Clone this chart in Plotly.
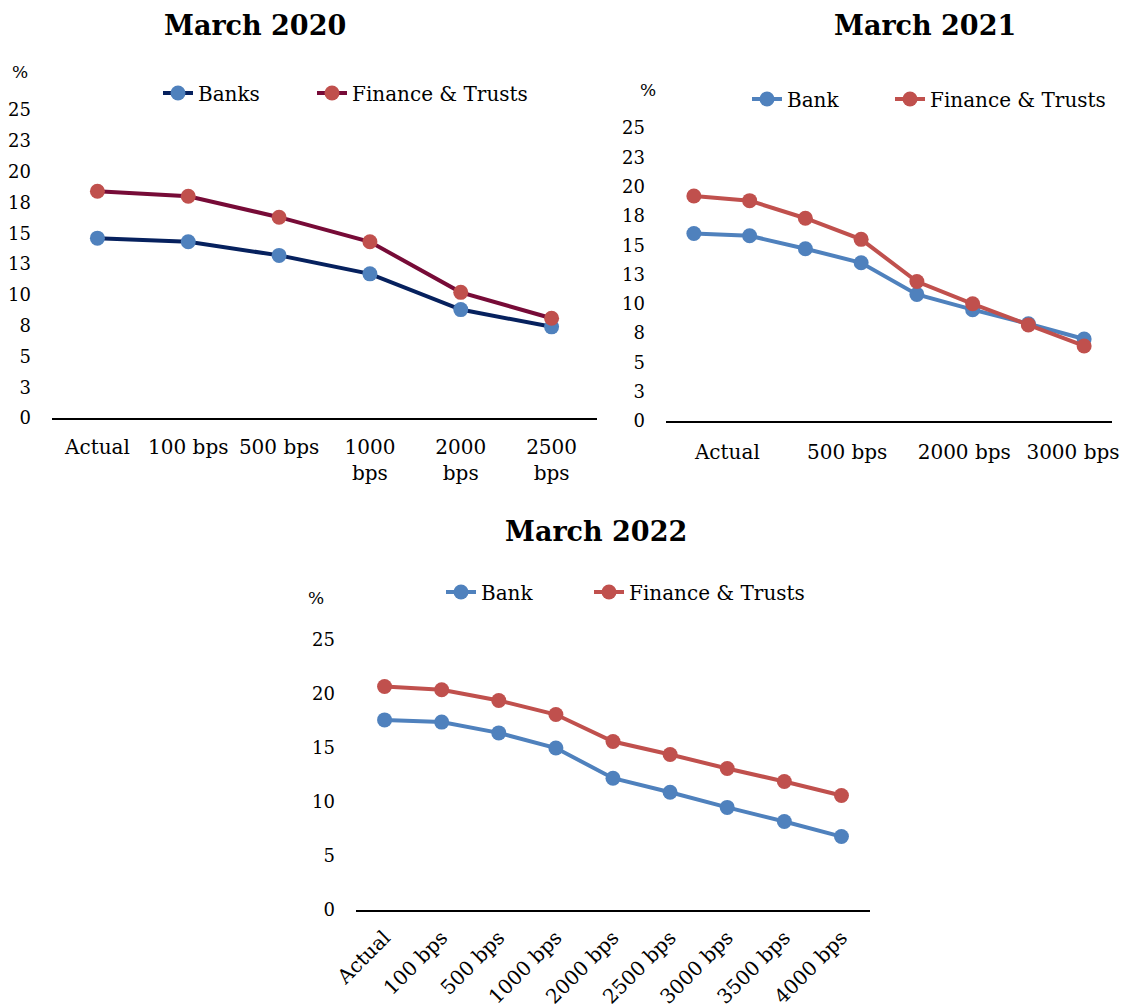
import plotly.graph_objects as go

# ---- data ----
cats_2020 = ["Actual", "100 bps", "500 bps", "1000 bps", "2000 bps", "2500 bps"]
banks_2020 = [14.6, 14.3, 13.2, 11.7, 8.8, 7.4]
fin_2020 = [18.4, 18.0, 16.3, 14.3, 10.2, 8.1]
xlabels_2020 = ["Actual", "100 bps", "500 bps", "1000<br>bps", "2000<br>bps", "2500<br>bps"]

cats_2021 = ["Actual", "100 bps", "500 bps", "1000 bps", "2000 bps", "2500 bps", "3000 bps", "3500 bps"]
bank_2021 = [16.0, 15.8, 14.7, 13.5, 10.8, 9.5, 8.3, 7.0]
fin_2021 = [19.2, 18.8, 17.3, 15.5, 11.9, 10.0, 8.2, 6.4]
xlabels_2021 = ["Actual", "500 bps", "2000 bps", "3000 bps"]

cats_2022 = ["Actual", "100 bps", "500 bps", "1000 bps", "2000 bps", "2500 bps", "3000 bps", "3500 bps", "4000 bps"]
bank_2022 = [17.6, 17.4, 16.4, 15.0, 12.2, 10.9, 9.5, 8.2, 6.8]
fin_2022 = [20.7, 20.4, 19.4, 18.1, 15.6, 14.4, 13.1, 11.9, 10.6]

ytick_vals_top = [0, 2.5, 5, 7.5, 10, 12.5, 15, 17.5, 20, 22.5, 25]
ytick_text_top = ["0", "3", "5", "8", "10", "13", "15", "18", "20", "23", "25"]
ytick_vals_bottom = [0, 5, 10, 15, 20, 25]

NAVY = "#06215e"
MAROON = "#770b37"
BLUE = "#4f81bd"
RED = "#c0504d"
FONT = "DejaVu Serif"

W, H = 1130, 1008
OFF = 8  # page body margin


def px(x):
    return (x - OFF) / W


def py(y):
    return 1 - (y - OFF) / H


fig = go.Figure()


def add_line(x, y, name, line_color, marker_color, xa, ya, legend):
    fig.add_trace(go.Scatter(
        x=x, y=y, name=name, mode="lines+markers",
        line=dict(color=line_color, width=4),
        marker=dict(color=marker_color, size=15),
        xaxis=xa, yaxis=ya, legend=legend,
    ))


idx_2020 = list(range(len(cats_2020)))
idx_2021 = list(range(len(cats_2021)))
idx_2022 = list(range(len(cats_2022)))

add_line(idx_2020, banks_2020, "Banks", NAVY, BLUE, "x", "y", "legend")
add_line(idx_2020, fin_2020, "Finance & Trusts", MAROON, RED, "x", "y", "legend2")
add_line(idx_2021, bank_2021, "Bank", BLUE, BLUE, "x2", "y2", "legend3")
add_line(idx_2021, fin_2021, "Finance & Trusts", RED, RED, "x2", "y2", "legend4")
add_line(idx_2022, bank_2022, "Bank", BLUE, BLUE, "x3", "y3", "legend5")
add_line(idx_2022, fin_2022, "Finance & Trusts", RED, RED, "x3", "y3", "legend6")

xbase = dict(showline=True, linecolor="black", linewidth=2, zeroline=False, automargin=False,
             showgrid=False, ticks="", tickfont=dict(family=FONT, size=20, color="black"))
ybase = dict(showline=False, zeroline=False, showgrid=False, ticks="", automargin=False,
             ticklabelstandoff=20, tickfont=dict(family=FONT, size=18, color="black"))


def legend_at(text_x, y):
    # item text starts about 41px right of the legend's left edge
    return dict(orientation="h", x=px(text_x - 41), y=py(y), xanchor="left", yanchor="middle",
                font=dict(family=FONT, size=20, color="black"), bgcolor="rgba(0,0,0,0)")


fig.update_layout(
    width=W, height=H,
    margin=dict(l=0, r=0, t=0, b=0, autoexpand=False),
    paper_bgcolor="white", plot_bgcolor="white",
    font=dict(family=FONT, color="black"),
    xaxis=dict(xbase, domain=[px(52), px(597)], range=[-0.5, len(cats_2020) - 0.5],
               anchor="y", tickvals=idx_2020, ticktext=xlabels_2020, ticklabelstandoff=10),
    yaxis=dict(ybase, domain=[py(418), py(110)], range=[0, 25], anchor="x",
               tickvals=ytick_vals_top, ticktext=ytick_text_top),
    xaxis2=dict(xbase, domain=[px(666), px(1112)], range=[-0.5, len(cats_2021) - 0.5],
                anchor="y2", tickvals=[0.6, 2.75, 4.85, 6.8], ticktext=xlabels_2021,
                ticklabelstandoff=12),
    yaxis2=dict(ybase, domain=[py(421), py(128)], range=[0, 25], anchor="x2",
                tickvals=ytick_vals_top, ticktext=ytick_text_top),
    xaxis3=dict(xbase, domain=[px(356), px(870)], range=[-0.5, len(cats_2022) - 0.5],
                anchor="y3", tickvals=idx_2022, ticktext=cats_2022, tickangle=-45,
                ticklabelstandoff=6),
    yaxis3=dict(ybase, domain=[py(910), py(640)], range=[0, 25], anchor="x3",
                tickvals=ytick_vals_bottom),
    legend=legend_at(199, 93),
    legend2=legend_at(353, 93),
    legend3=legend_at(788, 99),
    legend4=legend_at(931, 99),
    legend5=legend_at(482, 592),
    legend6=legend_at(630, 592),
    showlegend=True,
)

titles = [("March 2020", 255, 25), ("March 2021", 925, 25), ("March 2022", 596, 531)]
for text, x, y in titles:
    fig.add_annotation(text="<b>%s</b>" % text, x=px(x), y=py(y), xref="paper", yref="paper",
                       xanchor="center", yanchor="middle", showarrow=False,
                       font=dict(family=FONT, size=27, color="black"))

for x, y in [(20, 72), (648, 90), (316, 598)]:
    fig.add_annotation(text="%", x=px(x), y=py(y), xref="paper", yref="paper",
                       xanchor="center", yanchor="middle", showarrow=False,
                       font=dict(family=FONT, size=17, color="black"))

fig.write_html("out.html")
